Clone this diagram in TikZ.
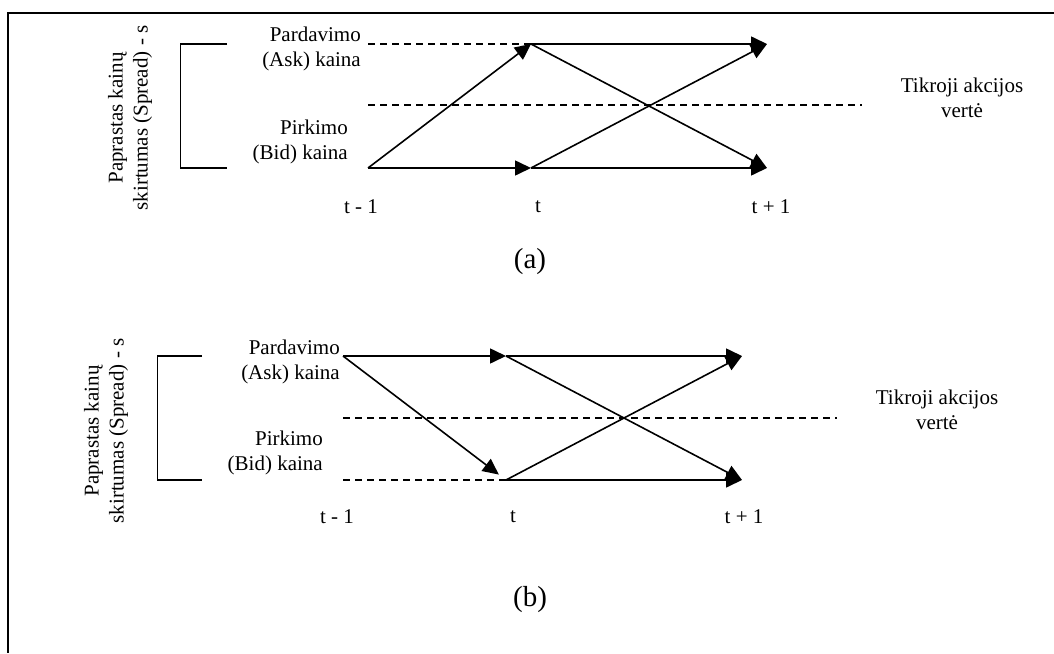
\documentclass[tikz,border=0pt]{standalone}
\usepackage{fontspec}
\setmainfont{Liberation Serif}
\usetikzlibrary{arrows.meta}
\begin{document}
\begin{tikzpicture}[x=1pt,y=-1pt,
  lbl/.style={font=\fontsize{21}{25}\selectfont, inner sep=0pt},
  captext/.style={font=\fontsize{29}{34}\selectfont, inner sep=0pt},
  arr/.style={line width=1.6pt, -{Triangle[length=16pt,width=15pt]}},
  ln/.style={line width=1.6pt},
  thinln/.style={line width=0.8pt},
  dsh/.style={line width=1.3pt, dash pattern=on 7pt off 5pt},
  frm/.style={line width=2pt}]
\useasboundingbox (0,0) rectangle (1054,653);
% frame
\coordinate (fTR) at (1054,13);
\coordinate (fTL) at (8,13);
\coordinate (fBL) at (8,653);
\draw[frm] (fTR) -- (fTL) -- (fBL);

% ---------- panel (a) ----------
\coordinate (aA0) at (368,44);
\coordinate (aB0) at (368,168);
\coordinate (aAt) at (531,44);
\coordinate (aBt) at (531,168);
\coordinate (aA1) at (767,44);
\coordinate (aB1) at (767,168);
\coordinate (aM0) at (368,105);
\coordinate (aM1) at (862,105);
\coordinate (aK1) at (227,44);
\coordinate (aK2) at (180,44);
\coordinate (aK3) at (180,168);
\coordinate (aK4) at (227,168);

\draw[ln] (aK1) -- (aK2);
\draw[ln] (aK3) -- (aK4);
\draw[thinln] (aK2) -- (aK3);

\draw[dsh] (aA0) -- (aAt);
\draw[dsh] (aM0) -- (aM1);
\draw[arr] (aB0) -- (aAt);
\draw[arr] (aB0) -- (aBt);
\draw[arr] (aAt) -- (aA1);
\draw[arr] (aAt) -- (aB1);
\draw[arr] (aBt) -- (aA1);
\draw[arr] (aBt) -- (aB1);

\node[lbl, rotate=90, align=center] (aspr) at (130,118) {Paprastas kainų\\skirtumas (Spread) - s};
\node[lbl, align=right, anchor=east] (aask) at (361,49) {Pardavimo\\(Ask) kaina};
\node[lbl, align=right, anchor=east] (abid) at (348,142) {Pirkimo\\(Bid) kaina};
\node[lbl] (at0) at (361,207) {t - 1};
\node[lbl] (at1) at (538,207) {t};
\node[lbl] (at2) at (771,207) {t + 1};
\node[lbl, align=center] (atv) at (962,98) {Tikroji akcijos\\vertė};
\node[captext] (acap) at (530,262) {(a)};

% ---------- panel (b) ----------
\coordinate (bA0) at (343,356);
\coordinate (bB0) at (343,480);
\coordinate (bAt) at (506,356);
\coordinate (bBt) at (506,480);
\coordinate (bA1) at (742,356);
\coordinate (bB1) at (742,480);
\coordinate (bM0) at (343,418);
\coordinate (bM1) at (837,418);
\coordinate (bK1) at (202,356);
\coordinate (bK2) at (157,356);
\coordinate (bK3) at (157,480);
\coordinate (bK4) at (202,480);

\draw[ln] (bK1) -- (bK2);
\draw[ln] (bK3) -- (bK4);
\draw[thinln] (bK2) -- (bK3);

\draw[dsh] (bB0) -- (bBt);
\draw[dsh] (bM0) -- (bM1);
\draw[arr] (bA0) -- (bAt);
\draw[arr, shorten >=9pt] (bA0) -- (bBt);
\draw[arr] (bAt) -- (bA1);
\draw[arr] (bAt) -- (bB1);
\draw[arr] (bBt) -- (bA1);
\draw[arr] (bBt) -- (bB1);

\node[lbl, rotate=90, align=center] (bspr) at (106,431) {Paprastas kainų\\skirtumas (Spread) - s};
\node[lbl, align=right, anchor=east] (bask) at (340,362) {Pardavimo\\(Ask) kaina};
\node[lbl, align=right, anchor=east] (bbid) at (323,453) {Pirkimo\\(Bid) kaina};
\node[lbl] (bt0) at (337,517) {t - 1};
\node[lbl] (bt1) at (513,517) {t};
\node[lbl] (bt2) at (744,517) {t + 1};
\node[lbl, align=center] (btv) at (937,410) {Tikroji akcijos\\vertė};
\node[captext] (bcap) at (530,600) {(b)};
\end{tikzpicture}
\end{document}
